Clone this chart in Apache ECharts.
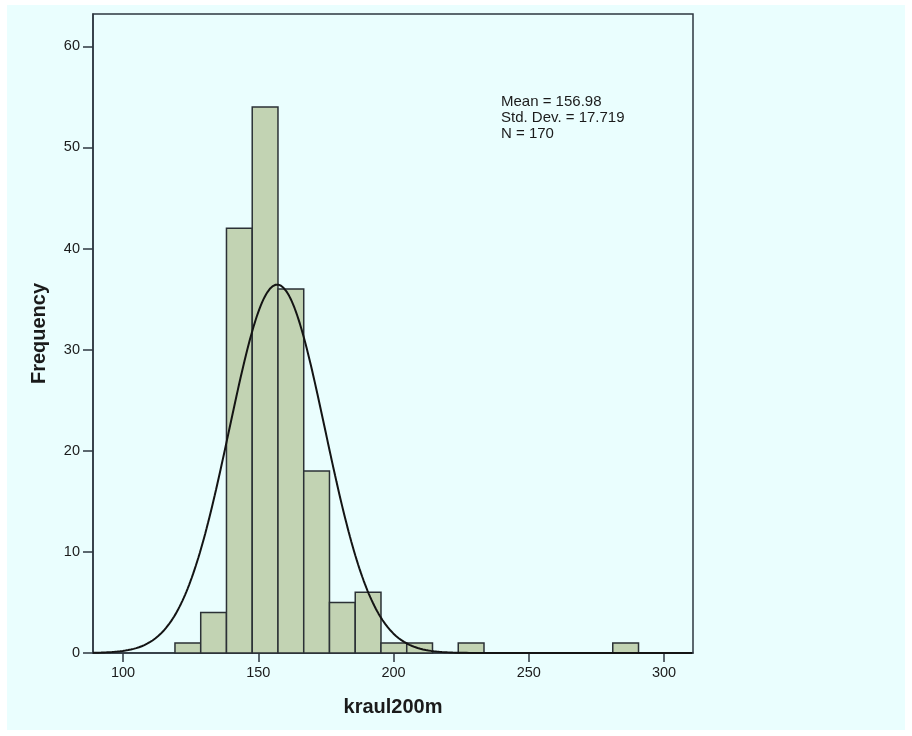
<!DOCTYPE html>
<html>
<head>
<meta charset="utf-8">
<style>
  html, body { margin: 0; padding: 0; background: #ffffff; }
  #chart { width: 912px; height: 736px; }
</style>
<script src="https://cdn.jsdelivr.net/npm/echarts@6/dist/echarts.min.js"></script>
</head>
<body>
<div id="chart"></div>
<script>
// Histogram of kraul200m (200 m front crawl times) with fitted normal curve
const binLow = [119.2, 128.72, 138.24, 147.76, 157.28, 166.8, 176.32, 185.84, 195.36, 204.88, 223.92, 281.04];
const binCounts = [1, 4, 42, 54, 36, 18, 5, 6, 1, 1, 1, 1];
const binWidth = 9.52;
const xTicks = [100, 150, 200, 250, 300];
const yTicks = [0, 10, 20, 30, 40, 50, 60];
const statMean = 156.98;
const statSD = 17.719;
const statN = 170;
const statLines = ['Mean = 156.98', 'Std. Dev. = 17.719', 'N = 170'];

const xMin = 88.9, xMax = 310.7, yMax = 63.2;

// Normal density scaled to histogram counts (N * bin width * pdf)
const curve = [];
for (let x = xMin; x <= xMax + 1e-9; x += 0.5) {
  const z = (x - statMean) / statSD;
  const y = statN * binWidth * Math.exp(-0.5 * z * z) / (statSD * Math.sqrt(2 * Math.PI));
  curve.push([x, y]);
}

const bins = binLow.map((lo, i) => [lo, binCounts[i]]);

const bg = '#eafefe';
const ink = '#1b1b1b';
const axisCol = '#2e3740';
const font = 'Arial, "Liberation Sans", sans-serif';

const chart = echarts.init(document.getElementById('chart'), null, { renderer: 'canvas' });
chart.setOption({
  animation: false,
  backgroundColor: '#ffffff',
  graphic: [
    { type: 'rect', z: -10, shape: { x: 7, y: 5, width: 898, height: 725 }, style: { fill: bg } },
    {
      type: 'text', left: 501, top: 93.5, z: 10,
      style: {
        text: statLines.join('\n'), fontFamily: font, fontSize: 15, lineHeight: 16, fill: ink
      }
    }
  ],
  grid: {
    left: 93, top: 14, right: 219, bottom: 83,
    show: true, backgroundColor: bg, borderColor: axisCol, borderWidth: 1.5,
    outerBoundsMode: 'none'
  },
  xAxis: {
    type: 'value', min: xMin, max: xMax,
    name: 'kraul200m', nameLocation: 'middle', nameGap: 44,
    nameTextStyle: { fontFamily: font, fontSize: 20, fontWeight: 'bold', color: ink },
    axisLine: { show: true, onZero: false, lineStyle: { color: axisCol, width: 1.5 } },
    axisTick: { show: true, length: 9, customValues: xTicks, lineStyle: { color: axisCol, width: 1.5 } },
    axisLabel: { customValues: xTicks, margin: 12, fontFamily: font, fontSize: 14.5, color: ink },
    splitLine: { show: false }
  },
  yAxis: {
    type: 'value', min: 0, max: yMax,
    name: 'Frequency', nameLocation: 'middle', nameGap: 44, nameRotate: 90,
    nameTextStyle: { fontFamily: font, fontSize: 20, fontWeight: 'bold', color: ink },
    axisLine: { show: true, lineStyle: { color: axisCol, width: 1.5 } },
    axisTick: { show: true, length: 10, customValues: yTicks, lineStyle: { color: axisCol, width: 1.5 } },
    axisLabel: { customValues: yTicks, margin: 13, fontFamily: font, fontSize: 14.5, color: ink },
    splitLine: { show: false }
  },
  series: [
    {
      type: 'custom',
      data: bins,
      z: 2,
      renderItem: function (params, api) {
        const lo = api.value(0);
        const top = api.coord([lo, api.value(1)]);
        const bot = api.coord([lo + binWidth, 0]);
        return {
          type: 'rect',
          shape: { x: top[0], y: top[1], width: bot[0] - top[0], height: bot[1] - top[1] },
          style: { fill: '#c2d3b3', stroke: '#2b3136', lineWidth: 1.5 }
        };
      }
    },
    {
      type: 'line',
      data: curve,
      z: 3,
      showSymbol: false,
      symbol: 'none',
      smooth: false,
      lineStyle: { color: '#141414', width: 2 }
    }
  ]
});
</script>
</body>
</html>
